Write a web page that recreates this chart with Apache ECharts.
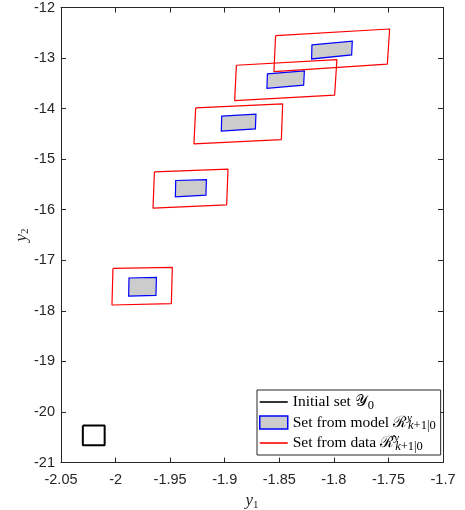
<!DOCTYPE html>
<html>
<head>
<meta charset="utf-8">
<script src="https://cdn.jsdelivr.net/npm/echarts@6/dist/echarts.min.js"></script>
<style>html,body{margin:0;padding:0;background:#fff;}#c{width:465px;height:510px;}</style>
</head>
<body>
<div id="c"></div>
<script>
// ---- data ----
var xTicks = [-2.05, -2, -1.95, -1.9, -1.85, -1.8, -1.75, -1.7];
var yTicks = [-21, -20, -19, -18, -17, -16, -15, -14, -13, -12];

var initialSet = [[-2.030, -20.27], [-2.010, -20.27], [-2.010, -20.66], [-2.030, -20.66]];

var modelSets = [
  [[-1.9877, -17.351], [-1.9626, -17.339], [-1.9630, -17.695], [-1.9880, -17.707]],
  [[-1.9449, -15.422], [-1.9168, -15.403], [-1.9172, -15.711], [-1.9452, -15.745]],
  [[-1.9028, -14.150], [-1.8714, -14.110], [-1.8719, -14.401], [-1.9031, -14.446]],
  [[-1.8609, -13.314], [-1.8270, -13.255], [-1.8277, -13.537], [-1.8613, -13.597]],
  [[-1.8201, -12.741], [-1.7831, -12.668], [-1.7837, -12.939], [-1.8204, -13.018]]
];

var dataSets = [
  [[-2.0024, -17.161], [-1.9480, -17.142], [-1.9489, -17.859], [-2.0033, -17.885]],
  [[-1.9644, -15.250], [-1.8970, -15.197], [-1.8982, -15.903], [-1.9657, -15.968]],
  [[-1.9266, -13.986], [-1.8469, -13.907], [-1.8481, -14.612], [-1.9282, -14.697]],
  [[-1.8893, -13.142], [-1.7972, -13.031], [-1.7993, -13.735], [-1.8909, -13.842]],
  [[-1.8534, -12.557], [-1.7489, -12.425], [-1.7510, -13.122], [-1.8549, -13.269]]
];

function closed(poly) { return poly.concat([poly[0]]); }

var axisCol = '#262626';
var tickFont = { color: axisCol, fontFamily: 'Liberation Sans, Arial, sans-serif', fontSize: 14.5 };

function xAxisCfg(pos, showLabel) {
  return {
    type: 'value', position: pos, min: xTicks[0], max: xTicks[xTicks.length - 1], interval: 0.05,
    axisLine: { show: true, onZero: false, lineStyle: { color: axisCol, width: 1 } },
    axisTick: { show: true, inside: true, length: 5, lineStyle: { color: axisCol, width: 1 } },
    axisLabel: Object.assign({ show: showLabel, margin: 10, showMinLabel: true, showMaxLabel: true }, tickFont),
    splitLine: { show: false }
  };
}
function yAxisCfg(pos, showLabel) {
  return {
    type: 'value', position: pos, min: yTicks[0], max: yTicks[yTicks.length - 1], interval: 1,
    axisLine: { show: true, onZero: false, lineStyle: { color: axisCol, width: 1 } },
    axisTick: { show: true, inside: true, length: 5, lineStyle: { color: axisCol, width: 1 } },
    axisLabel: Object.assign({ show: showLabel, margin: 6, showMinLabel: true, showMaxLabel: true }, tickFont),
    splitLine: { show: false }
  };
}

var nameRich = {
  i: { fontFamily: 'Liberation Serif, serif', fontStyle: 'italic', fontSize: 17, color: axisCol },
  s: { fontFamily: 'Liberation Serif, serif', fontSize: 11, color: axisCol, verticalAlign: 'bottom', padding: [8, 0, 0, 0] }
};
var xa0 = xAxisCfg('bottom', true);
xa0.name = '{i|y}{s|1}';
xa0.nameLocation = 'middle';
xa0.nameGap = 29;
xa0.nameMoveOverlap = false;
xa0.nameTextStyle = { rich: nameRich };
var ya0 = yAxisCfg('left', true);
ya0.name = '{i|y}{s|2}';
ya0.nameLocation = 'middle';
ya0.nameGap = 30;
ya0.nameRotate = 90;
ya0.nameMoveOverlap = false;
ya0.nameTextStyle = { rich: nameRich };

var serifF = 'Liberation Serif, DejaVu Serif, serif';
var series = [];
series.push({
  name: 'Initial set', type: 'line', data: closed(initialSet), symbol: 'none',
  lineStyle: { color: '#000', width: 2 }, itemStyle: { color: '#000' }, z: 5
});
series.push({
  name: 'Set from model', type: 'custom',
  data: modelSets.map(function (p, i) { return [p[0][0], p[0][1], i]; }),
  encode: { x: 0, y: 1 },
  itemStyle: { color: '#cccccc', borderColor: '#0000ff' },
  renderItem: function (params, api) {
    var poly = modelSets[api.value(2)];
    var pts = poly.map(function (p) { return api.coord(p); });
    return { type: 'polygon', shape: { points: pts },
      style: { fill: '#cccccc', stroke: '#0000ff', lineWidth: 1.2 } };
  },
  z: 3
});
dataSets.forEach(function (p) {
  series.push({
    name: 'Set from data', type: 'line', data: closed(p), symbol: 'none',
    lineStyle: { color: '#ff0000', width: 1.2 }, itemStyle: { color: '#ff0000' }, z: 4
  });
});

var lineIcon = 'path://M0,0L28,0L28,1.6L0,1.6Z';
var chart = echarts.init(document.getElementById('c'), null, { renderer: 'canvas' });
chart.setOption({
  animation: false,
  backgroundColor: '#fff',
  grid: { left: 61, right: 22, top: 7.5, bottom: 47.5, outerBoundsMode: 'none', containLabel: false },
  xAxis: [xa0, xAxisCfg('top', false)],
  yAxis: [ya0, yAxisCfg('right', false)],
  legend: {
    orient: 'vertical', left: 257, top: 390,
    itemWidth: 28, itemHeight: 13, itemGap: 0.5, itemTextGap: 3,
    padding: [2, 5, 2, 2],
    backgroundColor: '#fff', borderColor: axisCol, borderWidth: 1, borderRadius: 0,
    selectedMode: false,
    data: [
      { name: 'Initial set', icon: lineIcon, itemStyle: { color: '#000' } },
      { name: 'Set from model', icon: 'rect', itemStyle: { color: '#cccccc', borderColor: '#0000ff', borderWidth: 1.5 } },
      { name: 'Set from data', icon: lineIcon, itemStyle: { color: '#ff0000' } }
    ],
    formatter: function (name) {
      if (name === 'Initial set') return 'Initial set {m|\uD835\uDCB4}{sb|0}';
      if (name === 'Set from model') return 'Set from model {m|\u211B}{sp|y}{sbi|k}{sb|+1|0}';
      return 'Set from data {m|\u211B\u0302}{sp|y}{sbi|k}{sb|+1|0}';
    },
    textStyle: {
      fontFamily: serifF, fontSize: 15.5, color: '#000', lineHeight: 20,
      rich: {
        m: { fontFamily: serifF, fontSize: 15.5, color: '#000', lineHeight: 20 },
        sp: { fontFamily: serifF, fontStyle: 'italic', fontSize: 11, color: '#000', width: 1, lineHeight: 8, verticalAlign: 'top' },
        sbi: { fontFamily: serifF, fontStyle: 'italic', fontSize: 12.5, color: '#000', lineHeight: 6, verticalAlign: 'bottom' },
        sb: { fontFamily: serifF, fontSize: 12.5, color: '#000', lineHeight: 6, verticalAlign: 'bottom' }
      }
    }
  },
  series: series
});
</script>
</body>
</html>
